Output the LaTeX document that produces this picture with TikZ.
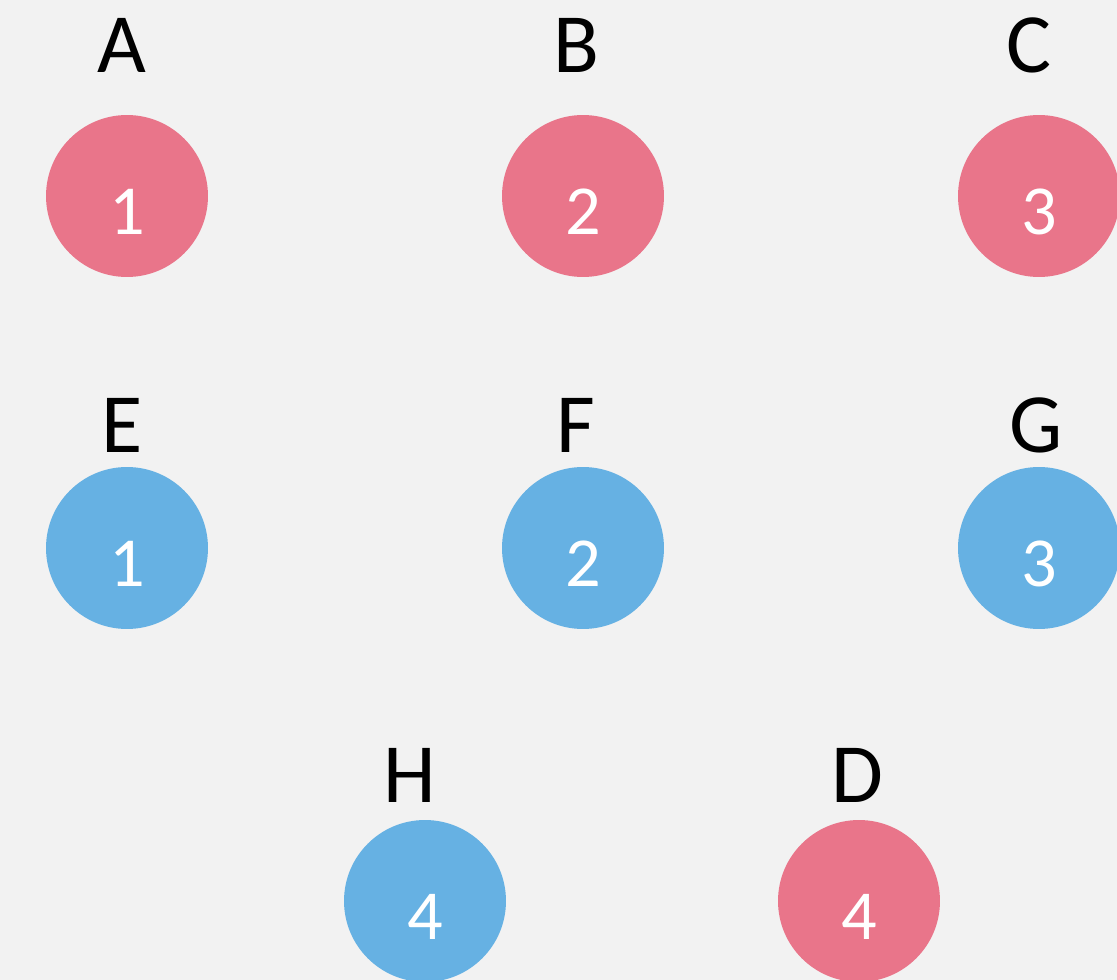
\documentclass[tikz,border=0pt]{standalone}
\usepackage{fontspec}
\setmainfont{Carlito}
\definecolor{bgfill}{HTML}{F2F2F2}
\definecolor{redfill}{HTML}{E9758A}
\definecolor{bluefill}{HTML}{66B1E3}
\tikzset{
  ball/.style={circle, minimum size=3.24cm, inner sep=0pt},
  redball/.style={ball, fill=redfill},
  blueball/.style={ball, fill=bluefill},
  numtxt/.style={text=white, font=\fontsize{40}{44}\selectfont, inner sep=0pt},
  lettertxt/.style={text=black, font=\fontsize{48}{52}\selectfont, inner sep=0pt}
}
\begin{document}
\begin{tikzpicture}[x=0.02cm, y=-0.02cm]

% Canvas.
\useasboundingbox (0,0) rectangle (1117,980);
\clip (0,0) rectangle (1117,980);
\fill[bgfill] (0,0) rectangle (1117,980);

% Top row, red.
\foreach \n/\x/\lab/\num in {A/127/A/1, B/583/B/2, C/1039/C/3} {
  \node[redball] (ball\n) at (\x,196) {};
  \node[numtxt] (num\n) at ([yshift=-0.32cm]ball\n.center) {\num};
}

% Middle row, blue.
\foreach \n/\x/\num in {E/127/1, F/583/2, G/1039/3} {
  \node[blueball] (ball\n) at (\x,548) {};
  \node[numtxt] (num\n) at ([yshift=-0.32cm]ball\n.center) {\num};
}

% Bottom row.
\node[blueball] (ballH) at (425,901) {};
\node[numtxt] (numH) at ([yshift=-0.32cm]ballH.center) {4};
\node[redball] (ballD) at (859,901) {};
\node[numtxt] (numD) at ([yshift=-0.32cm]ballD.center) {4};

% Letters.
\node[lettertxt] (labA) at (122,45) {A};
\node[lettertxt] (labB) at (576,45) {B};
\node[lettertxt] (labC) at (1029,45) {C};
\node[lettertxt] (labE) at (122,425) {E};
\node[lettertxt] (labF) at (576,425) {F};
\node[lettertxt] (labG) at (1036,425) {G};
\node[lettertxt] (labH) at (410,775) {H};
\node[lettertxt] (labD) at (857,775) {D};

\end{tikzpicture}
\end{document}
